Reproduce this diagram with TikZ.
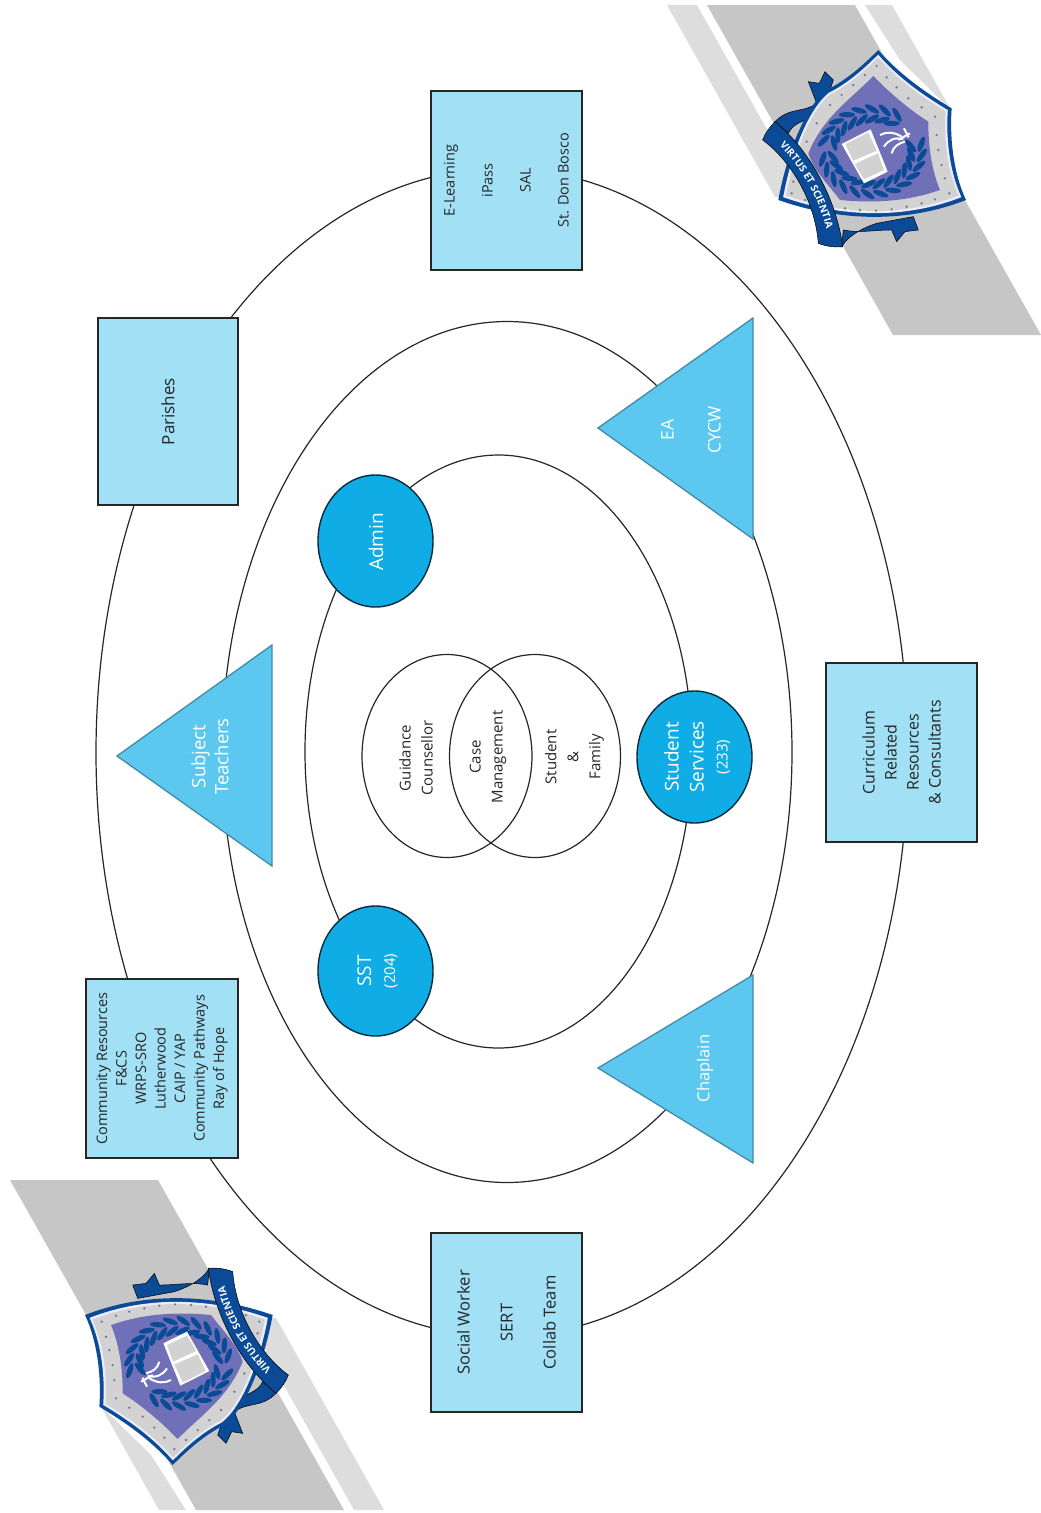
\documentclass[tikz,border=0pt]{standalone}
\usepackage{fontspec}
\setmainfont{Open Sans}
\usetikzlibrary{shapes.geometric,decorations.text}
\definecolor{boxblue}{HTML}{A1E0F5}
\definecolor{triblue}{HTML}{5CC8EF}
\definecolor{dotblue}{HTML}{10ACE6}
\definecolor{navy}{HTML}{0B4A96}
\definecolor{lilac}{HTML}{6F70B8}
\definecolor{silver}{HTML}{D2D2D2}
\tikzset{
	ring/.style = {draw = black!85, ellipse, line width = 1.2pt, inner sep = 0pt},
	infobox/.style = {draw = black!85, line width = 1.4pt, fill = boxblue, rotate = 90, align = center, inner sep = 0pt, text = black!85, font = \fontsize{14.5}{19.5}\selectfont},
	tribox/.style = {draw = triblue!70!black, line width = 1.3pt, fill = triblue},
	trilabel/.style = {rotate = 90, align = center, text = white, font = \fontsize{18.5}{23}\selectfont},
	dotbox/.style = {ellipse, draw = black!75!dotblue, line width = 1.4pt, fill = dotblue, inner sep = 0pt},
	dotlabel/.style = {rotate = 90, align = center, text = white, inner sep = 0pt, font = \fontsize{19}{25}\selectfont},
	venn/.style = {rotate = 90, align = center, text = black!85, font = \fontsize{15}{22}\selectfont}
}
\newcommand{\leaf}[4]{
	\pgfmathsetmacro{\lx}{636 + #1*cos(#3)}
	\pgfmathsetmacro{\ly}{455 - #2*sin(#3)}
	\fill[navy, rotate around = {#4:(\lx, \ly)}] (\lx, \ly) ellipse [x radius = 24, y radius = 8];
}
\newcommand{\shieldpath}{(655,150) .. controls (720,225) and (800,280) .. (875,325) .. controls (868,430) and (885,530) .. (918,600) .. controls (740,670) and (540,665) .. (355,600) .. controls (375,490) and (425,330) .. (500,270) .. controls (560,240) and (610,195) .. cycle}
\newcommand{\crest}{
	\fill[gray!45] (707,5) -- (855,5) -- (1041,335) -- (893,335) -- cycle;
	\fill[gray!27] (667,5) -- (697,5) -- (805,197) -- (775,197) -- cycle;
	\fill[gray!27] (865,5) -- (892,5) -- (951,110) -- (900,60) -- cycle;
	\begin{scope}[xshift = 660pt, x = 0.3333pt, y = -0.3333pt]
		% tails of the ribbon
		\fill[navy, draw = black, line width = 0.5pt] (345,365) .. controls (390,320) and (430,340) .. (470,310) -- (445,245) -- (478,250) -- (495,215) -- (520,240) -- (500,300) .. controls (470,370) and (410,350) .. (385,400) -- cycle;
		\fill[navy, draw = black, line width = 0.5pt] (545,740) .. controls (570,700) and (620,680) .. (650,670) -- (760,650) -- (775,690) -- (735,695) -- (710,725) -- (695,690) .. controls (640,690) and (600,700) .. (550,690) -- cycle;
		% shield
		\fill[navy] \shieldpath;
		\begin{scope}[shift = {(645,430)}, scale = 0.95, shift = {(-645,-430)}]
			\fill[white!75!blue!30] \shieldpath;
		\end{scope}
		\begin{scope}[shift = {(645,430)}, scale = 0.92, shift = {(-645,-430)}]
			\fill[silver] \shieldpath;
		\end{scope}
		\fill[lilac] (640,228) .. controls (690,280) and (750,330) .. (805,365) .. controls (805,440) and (815,510) .. (840,570) .. controls (740,605) and (640,610) .. (540,600) .. controls (510,560) and (460,510) .. (445,460) .. controls (490,350) and (570,300) .. cycle;
		% rivets
		\foreach \a/\b in {650/198, 680/232, 710/262, 745/295, 785/322, 825/350, 830/405, 835/450, 845/495, 855/535, 868/580, 825/598, 785/610, 740/620, 695/628, 648/632, 600/630, 555/625, 435/600, 395/580, 400/545, 415/490, 440/425, 470/370, 510/315, 545/285, 580/255, 615/225} {
			\fill[gray!70!lilac] (\a,\b) circle [radius = 4];
		}
		% laurel
		\foreach \t in {60,75,...,175} {
			\leaf{150}{128}{\t}{\t+60}
			\leaf{118}{98}{\t}{\t+120}
		}
		\foreach \t in {190,205,...,370} {
			\leaf{150}{128}{\t}{\t+60}
			\leaf{118}{98}{\t}{\t+120}
		}
		% book
		\fill[white] (545,432) -- (632,388) -- (683,515) -- (612,550) -- cycle;
		\fill[silver] (556,432) -- (625,398) -- (650,452) -- (580,482) -- cycle;
		\fill[silver] (584,492) -- (654,460) -- (672,510) -- (612,538) -- cycle;
		% trident
		\draw[white, line width = 2pt] (750,400) -- (715,420);
		\draw[white, line width = 2pt] (732,385) -- (746,412);
		\draw[white, line width = 2pt] (725,410) .. controls (700,395) and (680,395) .. (660,405);
		\draw[white, line width = 2pt] (730,418) .. controls (705,410) and (685,420) .. (672,440);
		\draw[white, line width = 2pt] (735,425) .. controls (715,430) and (700,440) .. (695,460);
		% ribbon
		\fill[navy, draw = black, line width = 0.5pt] (308,420) .. controls (390,480) and (465,600) .. (475,730) .. controls (500,740) and (525,742) .. (548,740) .. controls (530,600) and (450,450) .. (345,365) .. controls (330,380) and (315,400) .. cycle;
		\path[decorate, decoration = {text along path, text align = center, text color = white, text = {|\fontsize{10}{12}\selectfont\bfseries|VIRTUS ET SCIENTIA}}] (322,404) .. controls (400,467) and (483,580) .. (510,735);
	\end{scope}
}
\begin{document}
\begin{tikzpicture}[x = 1pt, y = -1pt]
	\useasboundingbox (0, 0) rectangle (1041, 1513);
	\fill[white] (0, 0) rectangle (1041, 1513);

	\crest
	\begin{scope}[rotate around = {180:(525.5, 757.5)}]
		\crest
	\end{scope}

	\node[ring, minimum width = 812pt, minimum height = 1168pt] (outerring) at (502, 752.5) {};
	\node[ring, minimum width = 570pt, minimum height = 861pt] (midring) at (507, 752) {};
	\node[ring, minimum width = 387pt, minimum height = 593pt] (innerring) at (498.5, 751.5) {};

	\node[ring, minimum width = 170pt, minimum height = 203pt] (leftvenn) at (447, 756) {};
	\node[ring, minimum width = 171pt, minimum height = 203pt] (rightvenn) at (535, 756) {};
	\node[venn] (guidance) at (416, 758) {Guidance\\Counsellor};
	\node[venn] (casemgmt) at (488, 757) {Case\\Management};
	\node[venn] (student) at (574.5, 757) {Student\\\&\\Family};

	\node[infobox, minimum width = 179pt, minimum height = 151pt] (elearning) at (506.5, 180.5) {E-Learning\\[18.5pt]iPass\\[18.5pt]SAL\\[18.5pt]St. Don Bosco};
	\node[infobox, minimum width = 187pt, minimum height = 140pt, font = \fontsize{17}{20}\selectfont] (parishes) at (168, 411.5) {Parishes};
	\node[infobox, minimum width = 179pt, minimum height = 152pt] (community) at (162, 1068.5) {Community Resources\\F\&CS\\WRPS-SRO\\Lutherwood\\CAIP / YAP\\Community Pathways\\Ray of Hope};
	\node[infobox, minimum width = 179pt, minimum height = 151pt, font = \fontsize{16.5}{20}\selectfont] (social) at (506.5, 1322.5) {Social Worker\\[23pt]SERT\\[23pt]Collab Team};
	\node[infobox, minimum width = 179pt, minimum height = 151pt, font = \fontsize{16}{22}\selectfont] (curriculum) at (901.5, 752.5) {Curriculum\\Related\\Resources\\\& Consultants};

	\draw[tribox] (117, 756) -- (272, 645) -- (272, 866) -- cycle;
	\draw[tribox] (598, 428) -- (753, 318) -- (753, 539) -- cycle;
	\draw[tribox] (598, 1068) -- (753, 975) -- (753, 1163) -- cycle;
	\node[trilabel] (subject) at (210, 756.5) {Subject\\Teachers};
	\node[trilabel, font = \fontsize{17.5}{47}\selectfont] (ea) at (691, 430) {EA\\CYCW};
	\node[trilabel, font = \fontsize{16.5}{19}\selectfont] (chaplain) at (705, 1068.5) {Chaplain};

	\node[dotbox, minimum width = 115pt, minimum height = 132pt] (admin) at (375.5, 541) {};
	\node[dotbox, minimum width = 115pt, minimum height = 130pt] (sst) at (375.5, 971) {};
	\node[dotbox, minimum width = 115pt, minimum height = 132pt] (services) at (694.5, 757) {};
	\node[dotlabel] (adminlabel) at (376, 542) {Admin};
	\node[dotlabel] (sstlabel) at (377.5, 971) {SST\\[-1pt]{\fontsize{15}{18}\selectfont (204)}};
	\node[dotlabel] (serviceslabel) at (697, 757) {Student\\Services\\[-1pt]{\fontsize{15}{18}\selectfont (233)}};
\end{tikzpicture}
\end{document}
